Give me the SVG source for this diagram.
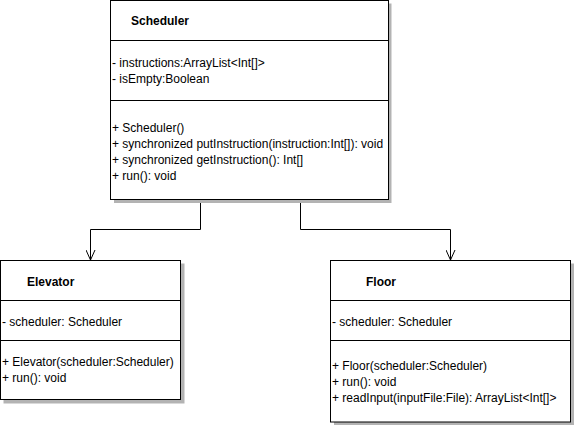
<svg xmlns="http://www.w3.org/2000/svg" width="575" height="425" viewBox="0 0 575 425">
<style>
.box{fill:#fff;stroke:#000;stroke-width:1}
.sh{fill:#b3b3b3}
.ln{stroke:#000;stroke-width:1;fill:none}
text{font-family:"Liberation Sans",Arial,sans-serif;font-size:12px;fill:#000}
.t{font-weight:bold}
</style>
<defs>
<marker id="open" viewBox="0 0 10 10" refX="10" refY="5" markerWidth="10" markerHeight="10" markerUnits="userSpaceOnUse" orient="auto">
<path d="M0,0.5 L10,5 L0,9.5" fill="none" stroke="#000" stroke-width="1"/>
</marker>
</defs>
<g id="connectors">
<path class="ln" d="M200.5,200 V229.5 H90.5 V260" marker-end="url(#open)"/>
<path class="ln" d="M300.5,200 V229.5 H450.5 V260" marker-end="url(#open)"/>
</g>
<g id="scheduler">
<rect class="sh" x="114" y="3.5" width="277.5" height="199.5"/>
<rect class="box" x="110.5" y="0.5" width="278" height="199"/>
<line class="ln" x1="110.5" y1="40.5" x2="388.5" y2="40.5"/>
<line class="ln" x1="110.5" y1="100.5" x2="388.5" y2="100.5"/>
<text class="t" x="131" y="24.5">Scheduler</text>
<text x="112" y="66.5">- instructions:ArrayList&lt;Int[]&gt;</text>
<text x="112" y="82.5">- isEmpty:Boolean</text>
<text x="112" y="131.5">+ Scheduler()</text>
<text x="112" y="147.5">+ synchronized putInstruction(instruction:Int[]): void</text>
<text x="112" y="163.5">+ synchronized getInstruction(): Int[]</text>
<text x="112" y="179.5">+ run(): void</text>
</g>
<g id="elevator">
<rect class="sh" x="3.5" y="263.5" width="181" height="140"/>
<rect class="box" x="0.5" y="260.5" width="180" height="139"/>
<line class="ln" x1="0.5" y1="300.5" x2="180.5" y2="300.5"/>
<line class="ln" x1="0.5" y1="340.5" x2="180.5" y2="340.5"/>
<text class="t" x="27" y="285.5">Elevator</text>
<text x="2" y="325.5">- scheduler: Scheduler</text>
<text x="2" y="365.5">+ Elevator(scheduler:Scheduler)</text>
<text x="2" y="381.5">+ run(): void</text>
</g>
<g id="floor">
<rect class="sh" x="334" y="263.5" width="240" height="162"/>
<rect class="box" x="330.5" y="260.5" width="240" height="161.5"/>
<line class="ln" x1="330.5" y1="300.5" x2="570.5" y2="300.5"/>
<line class="ln" x1="330.5" y1="340.5" x2="570.5" y2="340.5"/>
<text class="t" x="366" y="285.5">Floor</text>
<text x="332" y="325.5">- scheduler: Scheduler</text>
<text x="332" y="369.5">+ Floor(scheduler:Scheduler)</text>
<text x="332" y="385.5">+ run(): void</text>
<text x="332" y="401.5">+ readInput(inputFile:File): ArrayList&lt;Int[]&gt;</text>
</g>
</svg>
